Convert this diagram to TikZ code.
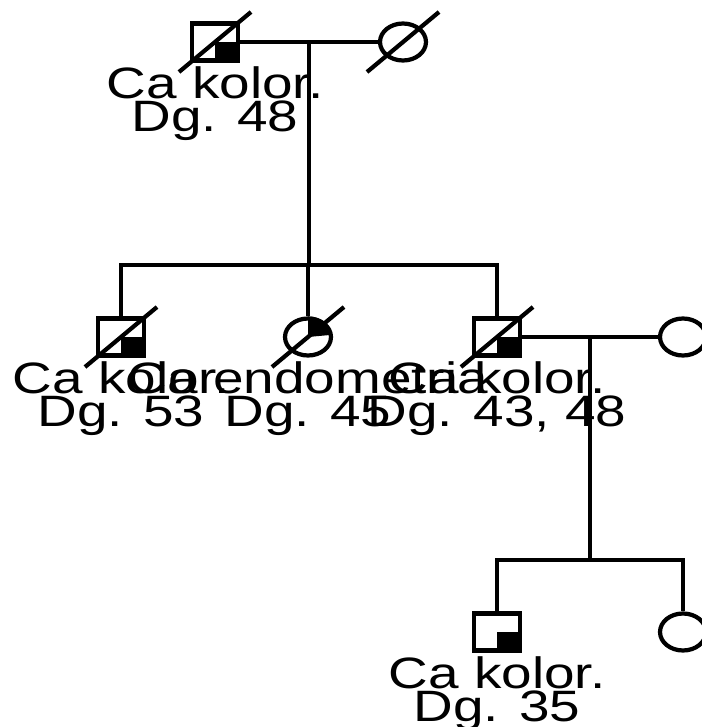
\documentclass[tikz,border=0pt]{standalone}
\usepackage{fontspec}
\setmainfont{Liberation Sans}
\usetikzlibrary{positioning,calc,shapes.geometric}

\begin{document}
\begin{tikzpicture}[x=0.02cm,y=-0.02cm,line width=2.4pt,
male/.style={draw,rectangle,minimum width=.92cm,minimum height=.74cm,inner sep=0pt},
female/.style={draw,ellipse,minimum width=.92cm,minimum height=.74cm,inner sep=0pt},
lbl/.style={font=\fontsize{25}{17}\selectfont,align=center,inner sep=0pt,anchor=north,xscale=1.25}]
\useasboundingbox (0,0) rectangle (701,727);
% individuals
\node[male] (a1) at (215,42) {};
\node[female] (a2) at (403,42) {};
\node[male] (b1) at (121,337) {};
\node[female] (b2) at (308,337) {};
\node[male] (b3) at (497,337) {};
\node[female] (b4) at (683,337) {};
\node[male] (c1) at (497,632) {};
\node[female] (c2) at (683,632) {};
% affected quarters
\foreach \n in {a1,b1,b3,c1}
  \fill (\n.center) rectangle (\n.south east);
\fill (b2.center) -- (b2.north) arc[start angle=90,end angle=0,x radius=.46cm,y radius=.37cm] -- cycle;
% deceased
\foreach \n in {a1,a2,b1,b2,b3}
  \draw ($(\n.center)+(-36,30)$) -- ($(\n.center)+(36,-30)$);
% lines of descent
\coordinate (s1) at (0,265);
\coordinate (s2) at (0,560);
\draw (a1) -- (a2);
\coordinate (m1) at ($(a1)!.5!(a2)$);
\draw (m1) -- (m1 |- s1);
\draw (b1.north) -- (b1.north |- s1) -- (b3.north |- s1) -- (b3.north);
\draw (b2) -- (b2 |- s1);
\draw (b3) -- (b4);
\coordinate (m2) at ($(b3)!.5!(b4)$);
\draw (m2) -- (m2 |- s2);
\draw (c1.north) -- (c1.north |- s2) -- (c2.north |- s2) -- (c2.north);
% labels
\node[lbl] (la1) at ($(a1)+(0,23)$) {Ca kolor.\\Dg. 48};
\node[lbl] (lb1) at ($(b1)+(0,23)$) {Ca kolor.\\Dg. 53};
\node[lbl] (lb2) at ($(b2)+(0,23)$) {Ca endometria\\Dg. 45};
\node[lbl] (lb3) at ($(b3)+(0,23)$) {Ca kolor.\\Dg. 43, 48};
\node[lbl] (lc1) at ($(c1)+(0,23)$) {Ca kolor.\\Dg. 35};
\end{tikzpicture}
\end{document}
